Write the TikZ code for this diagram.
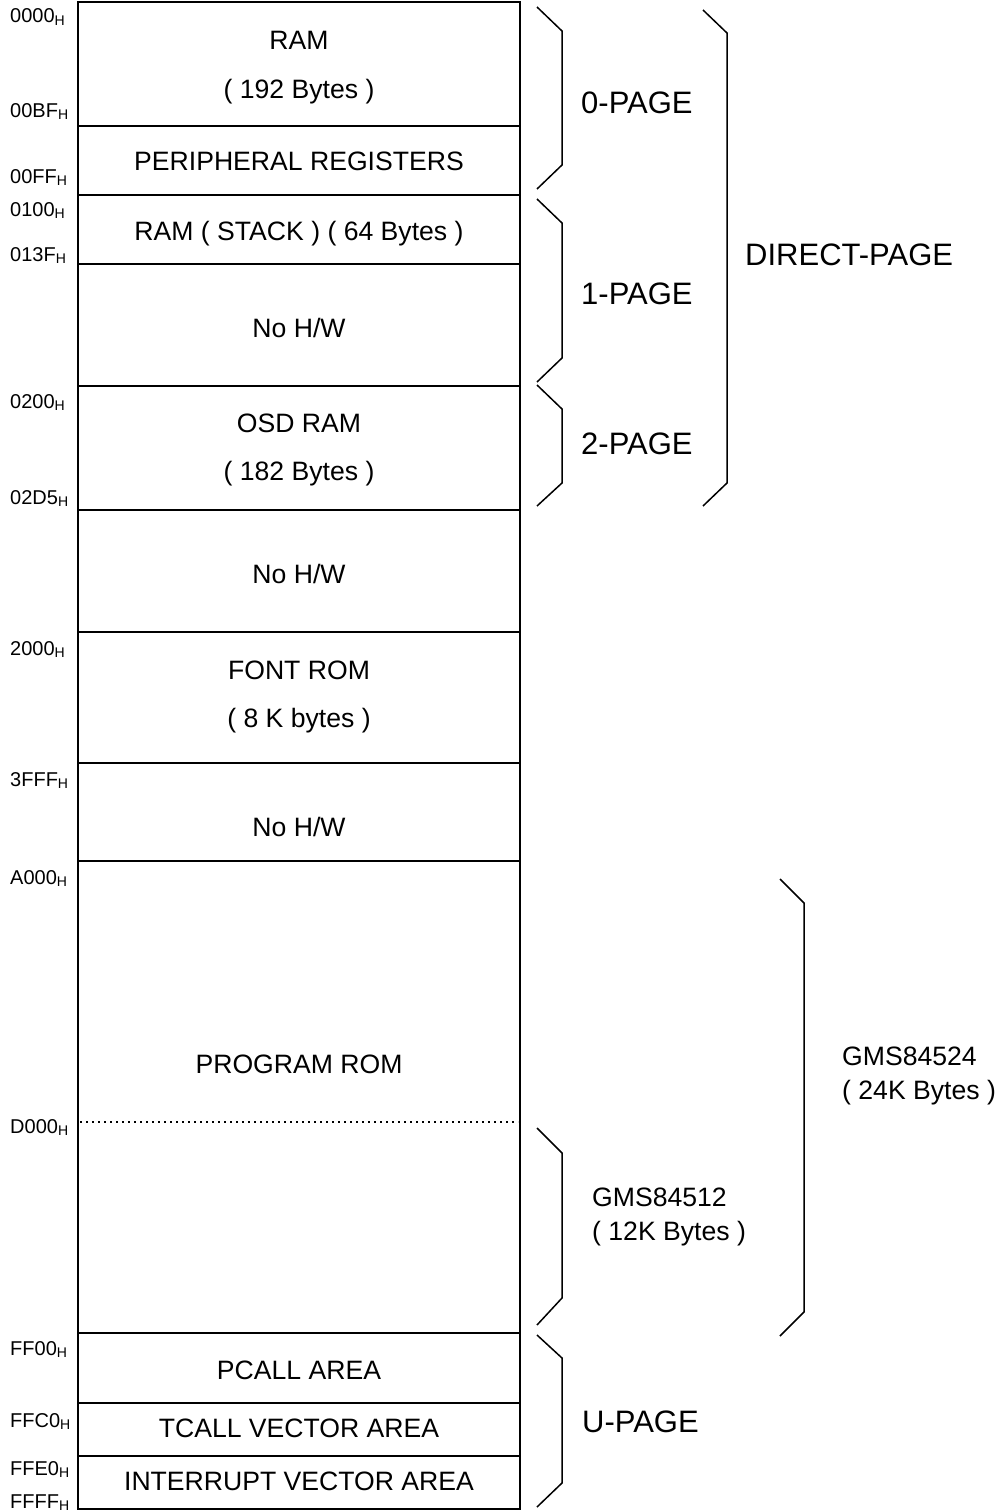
\documentclass[tikz,border=0pt]{standalone}
\usepackage{fontspec}
\setmainfont{Liberation Sans}
\newcommand\hx[1]{#1\raisebox{-2.5pt}{\fontsize{14}{14}\selectfont H}}
\begin{document}
\begin{tikzpicture}[x=1pt,y=-1pt,
  boxtext/.style={font=\fontsize{26.6}{48.5}\selectfont, align=center, inner sep=0pt, anchor=base},
  addr/.style={font=\fontsize{20}{20}\selectfont, inner sep=0pt, anchor=base west},
  biglabel/.style={font=\fontsize{31}{31}\selectfont, inner sep=0pt, anchor=west},
  sidelabel/.style={font=\fontsize{26.6}{34}\selectfont, align=left, inner sep=0pt, anchor=base west},
  divider/.style={line width=1.6pt},
  bracestyle/.style={line width=1.5pt, line join=miter}]
\useasboundingbox (0,0) rectangle (997,1512);
% outer frame
\draw[line width=2pt] (78,2) rectangle (520,1509);
% dividers
\foreach \yy in {126,195,264,386,510,632,763,861,1333,1403,1456}
  \draw[divider] (78,\yy) -- (520,\yy);
\draw[line width=1.5pt, dash pattern=on 2pt off 4pt] (80,1122) -- (518,1122);
% box texts (base = baseline of last line)
\node[boxtext] (ram) at (299,98) {RAM\\( 192 Bytes )};
\node[boxtext] (periph) at (299,170.5) {PERIPHERAL REGISTERS};
\node[boxtext] (stack) at (299,240.5) {RAM ( STACK ) ( 64 Bytes )};
\node[boxtext] (nohwa) at (299,337.5) {No H/W};
\node[boxtext] (osd) at (299,480.5) {OSD RAM\\( 182 Bytes )};
\node[boxtext] (nohwb) at (299,583.5) {No H/W};
\node[boxtext] (fontrom) at (299,727.5) {FONT ROM\\( 8 K bytes )};
\node[boxtext] (nohwc) at (299,836.5) {No H/W};
\node[boxtext] (prog) at (299,1073.5) {PROGRAM ROM};
\node[boxtext] (pcall) at (299,1379.5) {PCALL AREA};
\node[boxtext] (tcall) at (299,1437.5) {TCALL VECTOR AREA};
\node[boxtext] (intr) at (299,1490.5) {INTERRUPT VECTOR AREA};
% addresses
\node[addr] (a0000) at (10,23) {\hx{0000}};
\node[addr] (a00BF) at (10,117) {\hx{00BF}};
\node[addr] (a00FF) at (10,183) {\hx{00FF}};
\node[addr] (a0100) at (10,216) {\hx{0100}};
\node[addr] (a013F) at (10,261) {\hx{013F}};
\node[addr] (a0200) at (10,408) {\hx{0200}};
\node[addr] (a02D5) at (10,504) {\hx{02D5}};
\node[addr] (a2000) at (10,655) {\hx{2000}};
\node[addr] (a3FFF) at (10,786) {\hx{3FFF}};
\node[addr] (aA000) at (10,884) {\hx{A000}};
\node[addr] (aD000) at (10,1133) {\hx{D000}};
\node[addr] (aFF00) at (10,1355) {\hx{FF00}};
\node[addr] (aFFC0) at (10,1427) {\hx{FFC0}};
\node[addr] (aFFE0) at (10,1475) {\hx{FFE0}};
\node[addr] (aFFFF) at (10,1508) {\hx{FFFF}};
% braces
\draw[bracestyle] (537,7) -- (562,31) -- (562,165) -- (537,189);
\draw[bracestyle] (537,199) -- (562,223) -- (562,358) -- (537,382);
\draw[bracestyle] (537,385) -- (562,409) -- (562,483) -- (537,506);
\draw[bracestyle] (703,10) -- (727,33) -- (727,483) -- (703,506);
\draw[bracestyle] (780,879) -- (804,903) -- (804,1312) -- (780,1336);
\draw[bracestyle] (537,1128) -- (562,1153) -- (562,1298) -- (537,1325);
\draw[bracestyle] (537,1335) -- (562,1358) -- (562,1483) -- (537,1507);
% brace labels
\node[biglabel] (p0) at (581,103) {0-PAGE};
\node[biglabel] (p1) at (581,294) {1-PAGE};
\node[biglabel] (p2) at (581,444) {2-PAGE};
\node[biglabel] (dp) at (745,255) {DIRECT-PAGE};
\node[biglabel] (up) at (582,1422) {U-PAGE};
\node[sidelabel] (g512) at (592,1240) {GMS84512\\( 12K Bytes )};
\node[sidelabel] (g524) at (842,1099) {GMS84524\\( 24K Bytes )};
\end{tikzpicture}
\end{document}
